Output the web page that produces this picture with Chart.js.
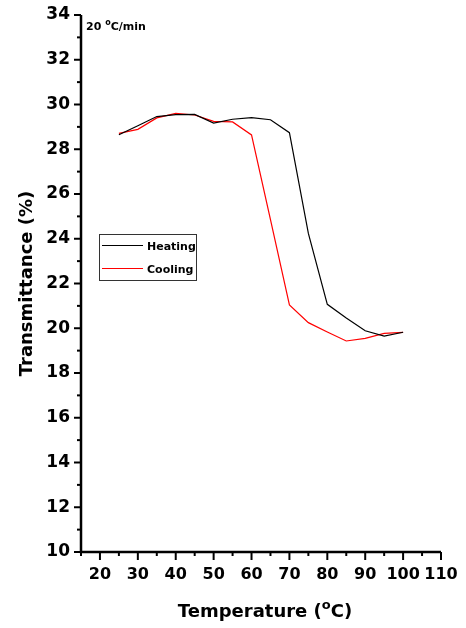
<!DOCTYPE html>
<html>
<head>
<meta charset="utf-8">
<script src="https://cdn.jsdelivr.net/npm/chart.js@4"></script>
<style>
  html, body { margin: 0; padding: 0; background: #fff; }
  #wrap { width: 466px; height: 628px; }
</style>
</head>
<body>
<div id="wrap"><canvas id="c" width="466" height="628"></canvas></div>
<script>
const temperature = [25, 30, 35, 40, 45, 50, 55, 60, 65, 70, 75, 80, 85, 90, 95, 100]
const heating = [28.65, 29.05, 29.46, 29.55, 29.56, 29.17, 29.34, 29.41, 29.32, 28.74, 24.24, 21.07, 20.46, 19.89, 19.65, 19.82]
const cooling = [28.71, 28.89, 29.40, 29.60, 29.53, 29.25, 29.22, 28.64, 24.85, 21.04, 20.25, 19.83, 19.43, 19.55, 19.77, 19.82]
const xTicks = [20, 30, 40, 50, 60, 70, 80, 90, 100, 110]
const yTicks = [10, 12, 14, 16, 18, 20, 22, 24, 26, 28, 30, 32, 34]

const FONT = '"DejaVu Sans", Verdana, sans-serif'

// text with a raised small "o" for the degree sign
function degText(ctx, parts, x, y, size, align) {
  const [before, after] = parts
  ctx.font = `bold ${size}px ${FONT}`
  const w1 = ctx.measureText(before).width
  const supSize = Math.round(size * 0.7)
  ctx.font = `bold ${supSize}px ${FONT}`
  const wo = ctx.measureText('o').width
  ctx.font = `bold ${size}px ${FONT}`
  const w2 = ctx.measureText(after).width
  const total = w1 + wo + w2
  let x0 = align === 'center' ? x - total / 2 : x
  ctx.textAlign = 'left'
  ctx.textBaseline = 'alphabetic'
  ctx.fillText(before, x0, y)
  ctx.font = `bold ${supSize}px ${FONT}`
  ctx.fillText('o', x0 + w1, y - size * 0.45)
  ctx.font = `bold ${size}px ${FONT}`
  ctx.fillText(after, x0 + w1 + wo, y)
}

const axesPlugin = {
  id: 'axes',
  afterDraw(chart) {
    const ctx = chart.ctx
    const xs = chart.scales.x, ys = chart.scales.y
    const x0 = xs.getPixelForValue(15), x1 = xs.getPixelForValue(110)
    const y0 = ys.getPixelForValue(10), y1 = ys.getPixelForValue(34)
    ctx.save()
    ctx.strokeStyle = '#000'
    ctx.fillStyle = '#000'
    ctx.lineWidth = 2.5
    ctx.beginPath()
    ctx.moveTo(x0, y1); ctx.lineTo(x0, y0); ctx.lineTo(x1, y0)
    ctx.stroke()

    // y ticks
    ctx.lineWidth = 2
    for (let v = 10; v <= 34; v += 1) {
      const p = ys.getPixelForValue(v)
      const len = v % 2 === 0 ? 7 : 4
      ctx.beginPath(); ctx.moveTo(x0, p); ctx.lineTo(x0 - len, p); ctx.stroke()
    }
    ctx.font = `bold 17px ${FONT}`
    ctx.textAlign = 'right'
    ctx.textBaseline = 'middle'
    yTicks.forEach(v => ctx.fillText(String(v), x0 - 11, ys.getPixelForValue(v)))

    // x ticks
    for (let v = 15; v <= 110; v += 5) {
      const p = xs.getPixelForValue(v)
      const len = v % 10 === 0 ? 8 : 4
      ctx.beginPath(); ctx.moveTo(p, y0); ctx.lineTo(p, y0 + len); ctx.stroke()
    }
    ctx.font = `bold 16px ${FONT}`
    ctx.textAlign = 'center'
    ctx.textBaseline = 'top'
    xTicks.forEach(v => ctx.fillText(String(v), xs.getPixelForValue(v), y0 + 15))

    // axis titles
    degText(ctx, ['Temperature (', 'C)'], (x0 + x1) / 2 + 4, 617, 18, 'center')
    ctx.save()
    ctx.translate(32, (y0 + y1) / 2)
    ctx.rotate(-Math.PI / 2)
    ctx.font = `bold 18px ${FONT}`
    ctx.textAlign = 'center'
    ctx.textBaseline = 'alphabetic'
    ctx.fillText('Transmittance (%)', 0, 0)
    ctx.restore()

    // annotation
    degText(ctx, ['20 ', 'C/min'], 86, 30, 11, 'left')

    // legend
    ctx.lineWidth = 1
    ctx.strokeStyle = '#333'
    ctx.strokeRect(99.5, 234.5, 97, 46)
    ctx.font = `bold 11px ${FONT}`
    ctx.textAlign = 'left'
    ctx.textBaseline = 'middle'
    ;[['Heating', '#000', 247], ['Cooling', '#ff0000', 270]].forEach(([t, c, y]) => {
      ctx.strokeStyle = c
      ctx.beginPath(); ctx.moveTo(102, y - 1.5); ctx.lineTo(143, y - 1.5); ctx.stroke()
      ctx.fillStyle = '#000'
      ctx.fillText(t, 147, y)
    })
    ctx.restore()
  }
}

new Chart(document.getElementById('c'), {
  type: 'line',
  data: {
    labels: temperature,
    datasets: [
      { label: 'Heating', data: temperature.map((t, i) => ({ x: t, y: heating[i] })), borderColor: '#000', borderWidth: 1.2, pointRadius: 0, tension: 0 },
      { label: 'Cooling', data: temperature.map((t, i) => ({ x: t, y: cooling[i] })), borderColor: '#ff0000', borderWidth: 1.2, pointRadius: 0, tension: 0 },
    ],
  },
  options: {
    animation: false,
    responsive: false,
    layout: { padding: { left: 81, right: 25, top: 15, bottom: 76 } },
    plugins: { legend: { display: false }, tooltip: { enabled: false } },
    scales: {
      x: { type: 'linear', min: 15, max: 110, display: false },
      y: { min: 10, max: 34, display: false },
    },
  },
  plugins: [axesPlugin],
})
</script>
</body>
</html>
